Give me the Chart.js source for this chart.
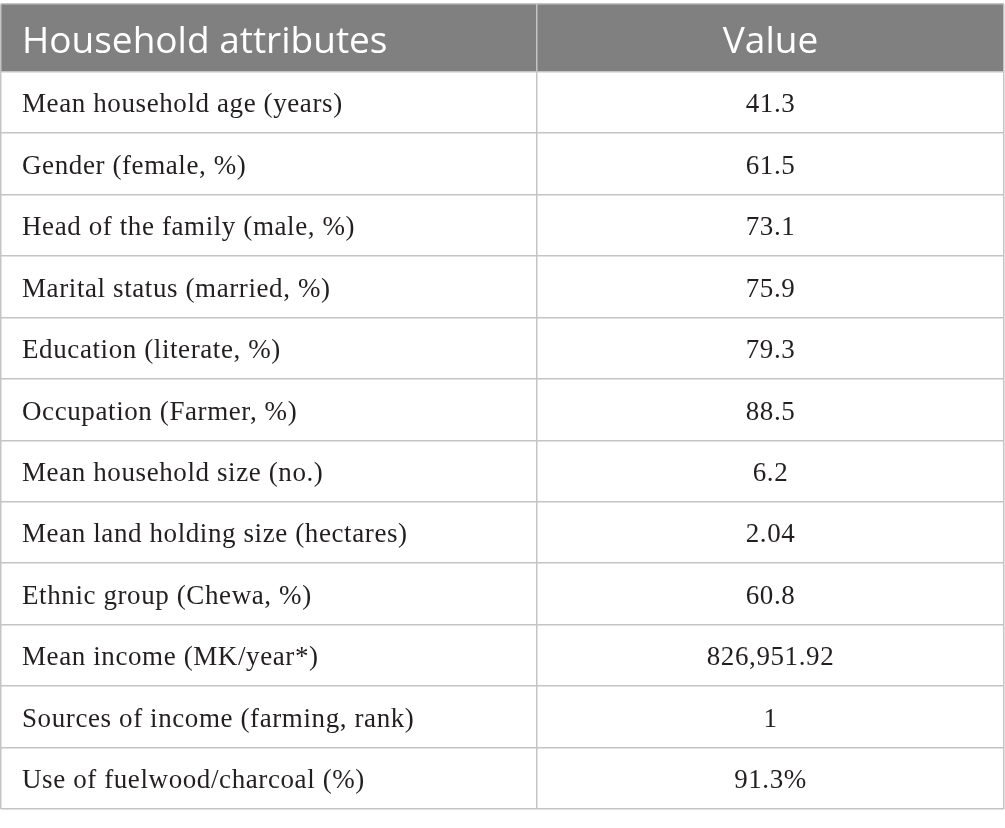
<!DOCTYPE html>
<html>
<head>
<meta charset="utf-8">
<script src="https://cdn.jsdelivr.net/npm/chart.js@4"></script>
<style>
  html, body { margin: 0; padding: 0; background: #ffffff; }
  #wrap { width: 1005px; height: 828px; }
</style>
</head>
<body>
<div id="wrap"><canvas id="myChart"></canvas></div>
<script>
// Table content
const headers = ['Household attributes', 'Value'];
const attributes = [
    'Mean household age (years)',
    'Gender (female, %)',
    'Head of the family (male, %)',
    'Marital status (married, %)',
    'Education (literate, %)',
    'Occupation (Farmer, %)',
    'Mean household size (no.)',
    'Mean land holding size (hectares)',
    'Ethnic group (Chewa, %)',
    'Mean income (MK/year*)',
    'Sources of income (farming, rank)',
    'Use of fuelwood/charcoal (%)'
];
const values = [
    '41.3', '61.5', '73.1', '75.9', '79.3', '88.5',
    '6.2', '2.04', '60.8', '826,951.92', '1', '91.3%'
];

// Layout in scale units: header is a little taller than a body row
const headerUnits = 1.1;
const colSplit = 0.5344;   // share of width for the first column

// row boundaries on the y scale
const rowBounds = [0, headerUnits];
for (let i = 0; i < attributes.length; i++) rowBounds.push(headerUnits + i + 1);

const tablePlugin = {
    id: 'tablePlugin',
    beforeDraw(chart) {
        const ctx = chart.ctx;
        const x = chart.scales.x, y = chart.scales.y;
        // header background
        ctx.save();
        ctx.fillStyle = '#808080';
        const top = y.getPixelForValue(0), bot = y.getPixelForValue(headerUnits);
        ctx.fillRect(x.getPixelForValue(0), top, x.getPixelForValue(1) - x.getPixelForValue(0), bot - top);
        ctx.restore();
    },
    afterDraw(chart) {
        const ctx = chart.ctx;
        const x = chart.scales.x, y = chart.scales.y;
        const leftX = x.getPixelForValue(0) + 21;
        const midX = (x.getPixelForValue(colSplit) + x.getPixelForValue(1)) / 2;
        ctx.save();
        ctx.textBaseline = 'alphabetic';
        // header
        ctx.fillStyle = '#ffffff';
        ctx.font = '37px "Open Sans"';
        const hy = y.getPixelForValue(headerUnits / 2) + 15;
        ctx.textAlign = 'left';
        ctx.fillText(headers[0], leftX, hy);
        ctx.textAlign = 'center';
        ctx.fillText(headers[1], midX, hy);
        // body rows
        ctx.fillStyle = '#231f20';
        ctx.font = '27px "Liberation Serif"';
        ctx.letterSpacing = '0.6px';
        attributes.forEach(function(name, i) {
            const cy = y.getPixelForValue(headerUnits + i + 0.5) + 10;
            ctx.textAlign = 'left';
            ctx.fillText(name, leftX, cy);
            ctx.textAlign = 'center';
            ctx.fillText(values[i], midX, cy);
        });
        ctx.restore();
    }
};

const ctx = document.getElementById('myChart');
const config = {
    type: 'scatter',
    data: { datasets: [{ data: [] }] },
    options: {
        responsive: true,
        maintainAspectRatio: false,
        animation: false,
        layout: { padding: { left: 1, top: 4, right: 1, bottom: 19 } },
        plugins: { legend: { display: false }, tooltip: { enabled: false } },
        scales: {
            x: {
                type: 'linear', min: 0, max: 1,
                afterBuildTicks: function(scale) {
                    scale.ticks = [0, colSplit, 1].map(function(v) { return { value: v }; });
                },
                ticks: { display: false },
                border: { display: false },
                grid: { color: '#c4c4c4', lineWidth: 1.5, drawTicks: false }
            },
            y: {
                type: 'linear', reverse: true, min: 0, max: rowBounds[rowBounds.length - 1],
                afterBuildTicks: function(scale) {
                    scale.ticks = rowBounds.map(function(v) { return { value: v }; });
                },
                ticks: { display: false },
                border: { display: false },
                grid: { color: '#c4c4c4', lineWidth: 1.5, drawTicks: false }
            }
        }
    },
    plugins: [tablePlugin]
};
new Chart(ctx, config);
</script>
</body>
</html>
